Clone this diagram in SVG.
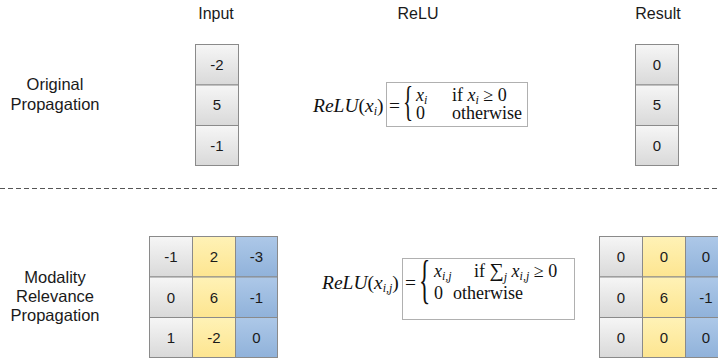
<svg xmlns="http://www.w3.org/2000/svg" width="718" height="360" viewBox="0 0 718 360">
  <defs>
    <linearGradient id="gGray" x1="0" y1="0" x2="0" y2="1">
      <stop offset="0" stop-color="#f6f6f6"/>
      <stop offset="1" stop-color="#d9d9d9"/>
    </linearGradient>
    <linearGradient id="gYellow" x1="0" y1="0" x2="0" y2="1">
      <stop offset="0" stop-color="#fff2b6"/>
      <stop offset="1" stop-color="#fde590"/>
    </linearGradient>
    <linearGradient id="gBlue" x1="0" y1="0" x2="0" y2="1">
      <stop offset="0" stop-color="#adc8e8"/>
      <stop offset="1" stop-color="#90b2da"/>
    </linearGradient>
  </defs>
  <style>
    .hdr { font-family: "Liberation Sans", Arial, sans-serif; font-size: 16px; fill: #1a1a1a; text-anchor: middle; }
    .lbl { font-family: "Liberation Sans", Arial, sans-serif; font-size: 16.5px; fill: #1a1a1a; text-anchor: middle; }
    .num { font-family: "Liberation Sans", Arial, sans-serif; font-size: 15px; fill: #1a1a1a; text-anchor: middle; }
    .cell { stroke: #8a8a8a; stroke-width: 1; }
    .g { fill: url(#gGray); }
    .y { fill: url(#gYellow); }
    .b { fill: url(#gBlue); }
    .box { fill: #ffffff; stroke: #b0b0b0; stroke-width: 1; }
    .m { font-family: "Liberation Serif", "Times New Roman", serif; font-size: 18px; fill: #111; }
    .lhs { font-size: 19.5px; }
    .it { font-style: italic; }
    .sub { font-size: 12px; font-style: italic; }
    .sep { stroke: #555; stroke-width: 1; stroke-dasharray: 5 3; }
  </style>

  <!-- column headers -->
  <text class="hdr" x="216" y="19">Input</text>
  <text class="hdr" x="418" y="19">ReLU</text>
  <text class="hdr" x="658" y="19">Result</text>

  <!-- row labels -->
  <text class="lbl" x="55" y="90">Original</text>
  <text class="lbl" x="55" y="110">Propagation</text>
  <text class="lbl" x="55" y="283">Modality</text>
  <text class="lbl" x="55" y="302">Relevance</text>
  <text class="lbl" x="55" y="321">Propagation</text>

  <!-- separator -->
  <line class="sep" x1="0" y1="188.5" x2="718" y2="188.5"/>

  <!-- original input vector -->
  <g id="input-vector">
    <rect class="cell g" x="195.5" y="44.5" width="43" height="40.5"/>
    <rect class="cell g" x="195.5" y="85" width="43" height="40.5"/>
    <rect class="cell g" x="195.5" y="125.5" width="43" height="40"/>
    <text class="num" x="217" y="70">-2</text>
    <text class="num" x="217" y="110">5</text>
    <text class="num" x="217" y="151">-1</text>
  </g>

  <!-- original result vector -->
  <g id="result-vector">
    <rect class="cell g" x="635.5" y="44.5" width="43" height="40.5"/>
    <rect class="cell g" x="635.5" y="85" width="43" height="40.5"/>
    <rect class="cell g" x="635.5" y="125.5" width="43" height="40"/>
    <text class="num" x="657" y="70">0</text>
    <text class="num" x="657" y="110">5</text>
    <text class="num" x="657" y="151">0</text>
  </g>

  <!-- ReLU definition -->
  <g id="relu-formula">
    <rect class="box" x="386.5" y="82.5" width="141" height="44"/>
    <text class="m lhs" x="313" y="112"><tspan class="it">ReLU</tspan>(<tspan class="it">x</tspan><tspan class="sub" dy="3">i</tspan><tspan dy="-3">)</tspan></text>
    <text class="m lhs" x="389" y="112">=</text>
    <text class="m" style="font-size:42px" transform="translate(403 115) scale(0.5 1)">{</text>
    <text class="m" x="416" y="101"><tspan class="it">x</tspan><tspan class="sub" dy="3">i</tspan></text>
    <text class="m" x="452" y="101">if <tspan class="it">x</tspan><tspan class="sub" dy="3">i</tspan><tspan dy="-3"> ≥ 0</tspan></text>
    <text class="m" x="416" y="119">0</text>
    <text class="m" x="452" y="119">otherwise</text>
  </g>

  <!-- modality input matrix -->
  <g id="input-matrix">
    <rect class="cell g" x="149.5" y="236.5" width="43" height="40.5"/>
    <rect class="cell y" x="192.5" y="236.5" width="43" height="40.5"/>
    <rect class="cell b" x="235.5" y="236.5" width="42" height="40.5"/>
    <rect class="cell g" x="149.5" y="277" width="43" height="40.5"/>
    <rect class="cell y" x="192.5" y="277" width="43" height="40.5"/>
    <rect class="cell b" x="235.5" y="277" width="42" height="40.5"/>
    <rect class="cell g" x="149.5" y="317.5" width="43" height="40"/>
    <rect class="cell y" x="192.5" y="317.5" width="43" height="40"/>
    <rect class="cell b" x="235.5" y="317.5" width="42" height="40"/>
    <text class="num" x="171" y="262">-1</text>
    <text class="num" x="214" y="262">2</text>
    <text class="num" x="256.5" y="262">-3</text>
    <text class="num" x="171" y="302.5">0</text>
    <text class="num" x="214" y="302.5">6</text>
    <text class="num" x="256.5" y="302.5">-1</text>
    <text class="num" x="171" y="343">1</text>
    <text class="num" x="214" y="343">-2</text>
    <text class="num" x="256.5" y="343">0</text>
  </g>

  <!-- modality-aware ReLU definition -->
  <g id="mrp-formula">
    <rect class="box" x="402.5" y="258.5" width="172" height="61"/>
    <text class="m lhs" x="322" y="289"><tspan class="it">ReLU</tspan>(<tspan class="it">x</tspan><tspan class="sub" dy="3">i,j</tspan><tspan dy="-3">)</tspan></text>
    <text class="m lhs" x="405" y="289">=</text>
    <text class="m" style="font-size:52px" transform="translate(419 297) scale(0.45 1)">{</text>
    <text class="m" x="434" y="277"><tspan class="it">x</tspan><tspan class="sub" dy="3">i,j</tspan></text>
    <text class="m" x="474" y="277">if <tspan style="font-size:20px">∑</tspan><tspan class="sub" dy="4">j</tspan><tspan class="it" dy="-4"> x</tspan><tspan class="sub" dy="3">i,j</tspan><tspan dy="-3"> ≥ 0</tspan></text>
    <text class="m" x="434" y="299">0</text>
    <text class="m" x="453" y="299">otherwise</text>
  </g>

  <!-- modality result matrix -->
  <g id="result-matrix">
    <rect class="cell g" x="599.5" y="236.5" width="43" height="40.5"/>
    <rect class="cell y" x="642.5" y="236.5" width="43" height="40.5"/>
    <rect class="cell b" x="685.5" y="236.5" width="43" height="40.5"/>
    <rect class="cell g" x="599.5" y="277" width="43" height="40.5"/>
    <rect class="cell y" x="642.5" y="277" width="43" height="40.5"/>
    <rect class="cell b" x="685.5" y="277" width="43" height="40.5"/>
    <rect class="cell g" x="599.5" y="317.5" width="43" height="40"/>
    <rect class="cell y" x="642.5" y="317.5" width="43" height="40"/>
    <rect class="cell b" x="685.5" y="317.5" width="43" height="40"/>
    <text class="num" x="621" y="262">0</text>
    <text class="num" x="664" y="262">0</text>
    <text class="num" x="706" y="262">0</text>
    <text class="num" x="621" y="302.5">0</text>
    <text class="num" x="664" y="302.5">6</text>
    <text class="num" x="706" y="302.5">-1</text>
    <text class="num" x="621" y="343">0</text>
    <text class="num" x="664" y="343">0</text>
    <text class="num" x="706" y="343">0</text>
  </g>
</svg>
